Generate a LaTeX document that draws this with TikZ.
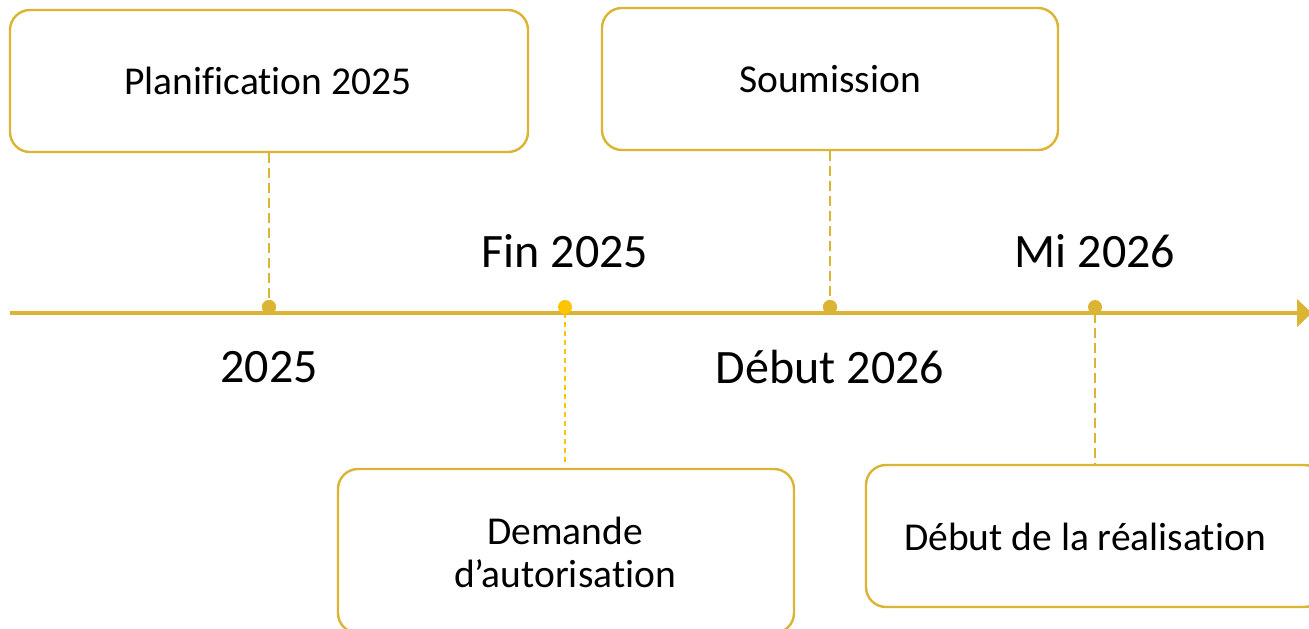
\documentclass[tikz,border=0pt]{standalone}
\usepackage{fontspec}
\setmainfont{Carlito}[Ligatures=NoCommon]
\usetikzlibrary{arrows.meta}
\definecolor{gold}{RGB}{219,180,52}
\definecolor{brightgold}{RGB}{255,196,0}
\tikzset{
  box/.style={draw=gold, line width=2.4pt, rounded corners=20pt, fill=white, inner sep=0pt},
  boxtext/.style={font=\fontsize{39.5}{45}\selectfont, align=center, inner sep=0pt},
  bigtext/.style={font=\fontsize{48}{56}\selectfont, inner sep=0pt},
  dot/.style={circle, fill=gold, inner sep=0pt, minimum size=14pt},
  conn/.style={draw=gold, line width=2.5pt, dash pattern=on 10pt off 5pt},
  thinconn/.style={draw=brightgold, line width=1.2pt, dash pattern=on 5pt off 4pt},
}
\begin{document}
\begin{tikzpicture}[x=1pt, y=-1pt]
\useasboundingbox (0,0) rectangle (1309,629);
% timeline
\coordinate (tl0) at (10,313);
\coordinate (tl1) at (1312,313);
\draw[gold, line width=4pt, -{Triangle[length=15pt, width=27pt]}] (tl0) -- (tl1);
% boxes
\node[box, minimum width=518pt, minimum height=142pt] (plan) at (269,81) {};
\node[boxtext] (plant) at (268,81) {Planification 2025};
\node[box, minimum width=456pt, minimum height=142pt] (soum) at (830,79) {};
\node[boxtext] (soumt) at (830,79) {Soumission};
\node[box, minimum width=456pt, minimum height=164pt] (dem) at (566,551) {};
\node[boxtext, font=\fontsize{39.5}{43}\selectfont] (demt) at (565,552) {Demande\\d’autorisation};
\node[box, minimum width=458pt, minimum height=142pt] (real) at (1095,536) {};
\node[boxtext] (realt) at (1085,537) {Début de la réalisation};
% dots
\node[dot] (d1) at (269,307) {};
\node[dot, fill=brightgold] (d2) at (565,307) {};
\node[dot] (d3) at (830,307) {};
\node[dot] (d4) at (1095,307) {};
% connectors
\draw[conn] (plan.south) -- (d1.center);
\draw[conn] (soum.south) -- (d3.center);
\coordinate (c2) at (565,462);
\draw[thinconn] (d2.center) ++(0,6) -- (c2);
\draw[conn] (d4.center) ++(0,6) -- (real.north);
\node[dot] at (269,307) {};
\node[dot] at (830,307) {};
% labels
\node[bigtext] (l1) at (269,367) {2025};
\node[bigtext] (l2) at (565,251) {Fin 2025};
\node[bigtext] (l3) at (830,367) {Début 2026};
\node[bigtext] (l4) at (1095,251) {Mi 2026};
\end{tikzpicture}
\end{document}
